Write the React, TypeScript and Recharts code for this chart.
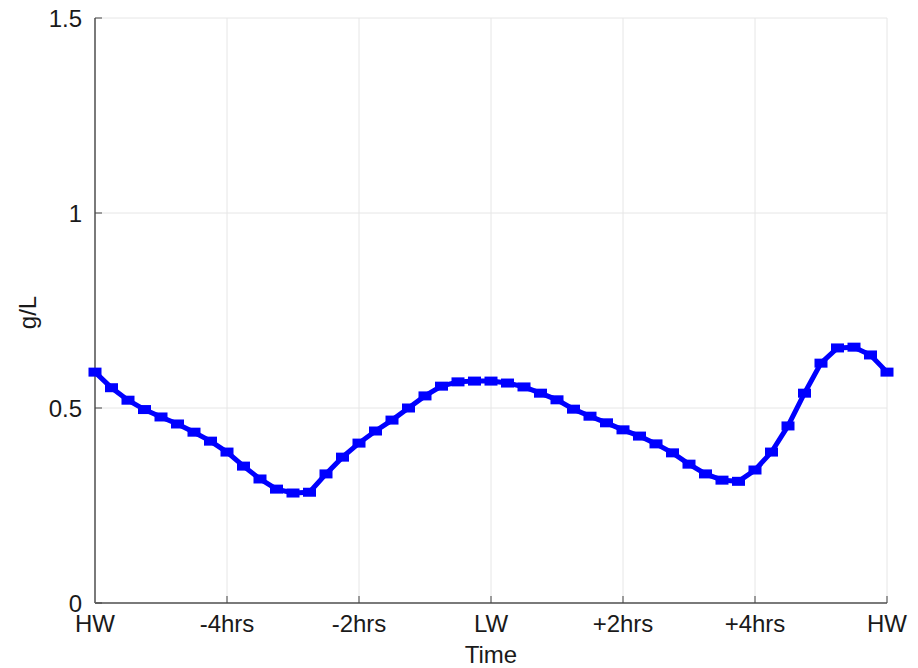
import React from 'react';
import { LineChart, Line, XAxis, YAxis, CartesianGrid, Label } from 'recharts';

// hours relative to low water, one sample every quarter hour
const hours = [
  -6, -5.75, -5.5, -5.25, -5, -4.75, -4.5, -4.25, -4, -3.75, -3.5, -3.25,
  -3, -2.75, -2.5, -2.25, -2, -1.75, -1.5, -1.25, -1, -0.75, -0.5, -0.25,
  0, 0.25, 0.5, 0.75, 1, 1.25, 1.5, 1.75, 2, 2.25, 2.5, 2.75,
  3, 3.25, 3.5, 3.75, 4, 4.25, 4.5, 4.75, 5, 5.25, 5.5, 5.75, 6,
];

// concentration in g/L
const concentration = [
  0.592, 0.552, 0.520, 0.496, 0.477, 0.459, 0.438, 0.415, 0.387, 0.351, 0.318, 0.292,
  0.282, 0.284, 0.331, 0.374, 0.410, 0.441, 0.469, 0.500, 0.531, 0.556, 0.567, 0.569,
  0.569, 0.564, 0.554, 0.538, 0.521, 0.497, 0.479, 0.462, 0.444, 0.428, 0.408, 0.385,
  0.356, 0.331, 0.315, 0.312, 0.341, 0.387, 0.454, 0.538, 0.615, 0.654, 0.656, 0.636, 0.592,
];

const xTicks = [-6, -4, -2, 0, 2, 4, 6];
const xTickLabels = ['HW', '-4hrs', '-2hrs', 'LW', '+2hrs', '+4hrs', 'HW'];
const yTicks = [0, 0.5, 1, 1.5];
const yTickLabels = ['0', '0.5', '1', '1.5'];

const data = hours.map((h, i) => ({ h, c: concentration[i] }));

const FONT = '"Liberation Sans", Arial, sans-serif';
const BLUE = '#0000ff';
const TEXT = '#1a1a1a';

const SquareDot = (props: any) => {
  const { cx, cy } = props;
  if (cx == null || cy == null) return null;
  return <rect x={cx - 6.5} y={cy - 4.5} width={13} height={9} fill={BLUE} />;
};

// vertical axis title, centred on the plot height
const YTitle = ({ viewBox }: any) => {
  const cx = viewBox.x + 27;
  const cy = viewBox.y + viewBox.height / 2 + 2;
  return (
    <text
      x={cx}
      y={cy}
      transform={`rotate(-90 ${cx} ${cy})`}
      textAnchor="middle"
      dominantBaseline="central"
      fill={TEXT}
      fontSize={24}
      fontFamily={FONT}
    >
      g/L
    </text>
  );
};

export default function App() {
  return (
    <div style={{ position: 'absolute', left: 0, top: 0, background: '#fff' }}>
      <LineChart
        width={918}
        height={668}
        data={data}
        margin={{ top: 18, right: 31, left: 0, bottom: 0 }}
      >
        <CartesianGrid stroke="#e6e6e6" strokeWidth={1} />
        <XAxis
          dataKey="h"
          type="number"
          domain={[-6, 6]}
          ticks={xTicks}
          tickFormatter={(v: number) => xTickLabels[xTicks.indexOf(v)]}
          height={65}
          interval={0}
          axisLine={{ stroke: '#7a7a7a', strokeWidth: 2 }}
          tickLine={{ stroke: '#444', strokeWidth: 1 }}
          tickSize={-7}
          tickMargin={19}
          tick={{ fill: TEXT, fontSize: 24, fontFamily: FONT }}
        >
          <Label value="Time" position="insideBottom" offset={5} fill={TEXT} fontSize={24} fontFamily={FONT} />
        </XAxis>
        <YAxis
          type="number"
          domain={[0, 1.5]}
          ticks={yTicks}
          tickFormatter={(v: number) => yTickLabels[yTicks.indexOf(v)]}
          width={95}
          interval={0}
          axisLine={{ stroke: '#7a7a7a', strokeWidth: 2 }}
          tickLine={{ stroke: '#444', strokeWidth: 1 }}
          tickSize={-7}
          tickMargin={20}
          tick={{ fill: TEXT, fontSize: 24, fontFamily: FONT }}
        >
          <Label content={<YTitle />} />
        </YAxis>
        <Line
          type="linear"
          dataKey="c"
          stroke={BLUE}
          strokeWidth={5}
          dot={<SquareDot />}
          activeDot={false}
          isAnimationActive={false}
        />
      </LineChart>
    </div>
  );
}
